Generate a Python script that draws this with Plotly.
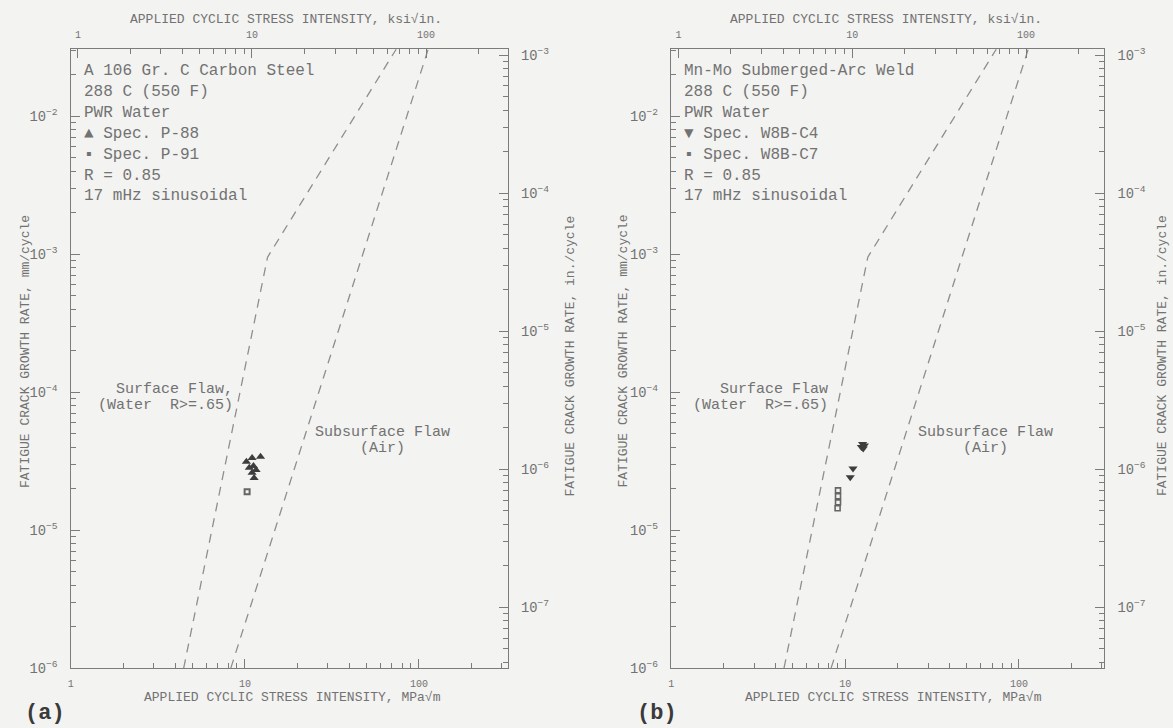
import plotly.graph_objects as go

# ---------------- data ----------------
# ASME reference curves, delta K in MPa*sqrt(m), da/dN in mm/cycle
surface_K = [4.45, 13.5, 74.0]
surface_da = [1.0e-6, 9.5e-4, 3.05e-2]
subsurface_K = [8.3, 113.0]
subsurface_da = [1.0e-6, 3.05e-2]

# panel (a): A 106 Gr. C carbon steel
a_p88_K = [10.2, 11.0, 12.3, 11.2, 11.0, 11.3, 11.6, 10.6]
a_p88_da = [3.13e-5, 3.33e-5, 3.4e-5, 2.92e-5, 2.6e-5, 2.39e-5, 2.73e-5, 2.83e-5]
a_p91_K = [10.3]
a_p91_da = [1.9e-5]

# panel (b): Mn-Mo submerged-arc weld
b_c4_K = [12.4, 12.6, 12.9, 12.7, 11.1, 10.7]
b_c4_da = [4.0e-5, 4.2e-5, 4.1e-5, 3.9e-5, 2.8e-5, 2.42e-5]
b_c7_K = [9.1, 9.1, 9.1, 9.05]
b_c7_da = [1.94e-5, 1.76e-5, 1.59e-5, 1.44e-5]

info_a = ["A 106 Gr. C Carbon Steel", "288 C (550 F)", "PWR Water",
          "\u25b2 Spec. P-88", "\u25aa Spec. P-91", "R = 0.85", "17 mHz sinusoidal"]
info_b = ["Mn-Mo Submerged-Arc Weld", "288 C (550 F)", "PWR Water",
          "\u25bc Spec. W8B-C4", "\u25aa Spec. W8B-C7", "R = 0.85", "17 mHz sinusoidal"]

# minor tick positions (values 2..9 in each decade)
minor_x = [m * 10.0 ** e for e in range(-1, 4) for m in range(2, 10)]
minor_y = [m * 10.0 ** e for e in range(-9, 0) for m in range(2, 10)]

KSI_TO_MPA_LOG = 0.0409   # log10(1.0988)
MM_TO_IN_LOG = 1.44       # right-hand scale offset as drawn

# ---------------- layout helpers ----------------
W, H = 1173, 737          # page is captured slightly taller than the target and fitted to 728
REF_H = 728
def fx(p):
    return p / W
def fy(p):
    return 1 - p / REF_H

GRAY = "#727272"
LINE = "#7c7c7c"
BG = "#f3f3f1"
MONO = "Liberation Mono"

fig = go.Figure()

panels = [
    dict(x0=68, x1=506, xmax=2.51, ids=(1, 2, 5, 6),
         info=info_a, info_x=79, tag="(a)", tag_x=42,
         surf_lbl=("Surface Flaw,", "(Water  R>=.65)"), surf_x=233,
         sub_x=380, top_c=284, bot_c=290, left_t=22, right_t=568),
    dict(x0=670, x1=1104, xmax=2.49, ids=(3, 4, 7, 8),
         info=info_b, info_x=681, tag="(b)", tag_x=656,
         surf_lbl=("Surface Flaw", "(Water  R>=.65)"), surf_x=829,
         sub_x=985, top_c=885, bot_c=893, left_t=622, right_t=1162),
]

ydom = [fy(668), fy(47)]
yrange = [-6, -1.513]

def nm(prefix, i):
    return prefix if i == 1 else prefix + str(i)

def major_axis():
    return dict(type="log", showline=True, linecolor=LINE, linewidth=1.2,
                ticks="inside", ticklen=9, tickcolor=LINE, tickwidth=1.2,
                showgrid=False, zeroline=False, dtick=1,
                tickfont=dict(family=MONO, size=11, color=GRAY))

def minor_axis(vals):
    return dict(type="log", showline=False, ticks="inside", ticklen=5, tickcolor=LINE, tickwidth=1,
                showgrid=False, zeroline=False, tickmode="array", tickvals=vals,
                showticklabels=False)

layout_axes = {}
for p in panels:
    a, t, mb, mt = p["ids"]          # bottom, top, bottom-minor, top-minor (x); same ids for y
    X, XT, XM, XTM = nm("x", a), nm("x", t), nm("x", mb), nm("x", mt)
    Y, YR, YM, YRM = nm("y", a), nm("y", t), nm("y", mb), nm("y", mt)
    dom = [fx(p["x0"]), fx(p["x1"])]
    xr = [0, p["xmax"]]
    xtr = [-KSI_TO_MPA_LOG, p["xmax"] - KSI_TO_MPA_LOG]
    yrr = [yrange[0] - MM_TO_IN_LOG, yrange[1] - MM_TO_IN_LOG]

    ax = major_axis(); ax.update(domain=dom, range=xr, anchor=Y, side="bottom",
                                 exponentformat="none", ticklabelstandoff=6,
                                 tickfont=dict(family=MONO, size=10, color=GRAY))
    layout_axes[nm("xaxis", a)] = ax
    ax = major_axis(); ax.update(overlaying=X, range=xtr, anchor=Y, side="top",
                                 exponentformat="none", ticklabelstandoff=6,
                                 tickfont=dict(family=MONO, size=10, color=GRAY))
    layout_axes[nm("xaxis", t)] = ax
    ax = minor_axis(minor_x); ax.update(overlaying=X, range=xr, anchor=Y, side="bottom")
    layout_axes[nm("xaxis", mb)] = ax
    ax = minor_axis(minor_x); ax.update(overlaying=X, range=xtr, anchor=Y, side="top")
    layout_axes[nm("xaxis", mt)] = ax

    ax = major_axis(); ax.update(domain=ydom, range=yrange, anchor=X, side="left",
                                 exponentformat="power", ticklabelstandoff=10)
    layout_axes[nm("yaxis", a)] = ax
    ax = major_axis(); ax.update(overlaying=Y, range=yrr, anchor=X, side="right",
                                 exponentformat="power", ticklabelstandoff=10)
    layout_axes[nm("yaxis", t)] = ax
    ax = minor_axis(minor_y); ax.update(overlaying=Y, range=yrange, anchor=X, side="left")
    layout_axes[nm("yaxis", mb)] = ax
    ax = minor_axis(minor_y); ax.update(overlaying=Y, range=yrr, anchor=X, side="right")
    layout_axes[nm("yaxis", mt)] = ax

    # placeholder traces so the secondary axes are drawn
    for xx in (XT, XM, XTM):
        fig.add_trace(go.Scatter(x=[None], y=[None], xaxis=xx, yaxis=Y, showlegend=False, hoverinfo="skip"))
    for yy in (YR, YM, YRM):
        fig.add_trace(go.Scatter(x=[None], y=[None], xaxis=X, yaxis=yy, showlegend=False, hoverinfo="skip"))

    # reference curves
    dash = dict(color="#8e8e8e", width=1.3, dash="9px,7px")
    fig.add_trace(go.Scatter(x=surface_K, y=surface_da, mode="lines", line=dash,
                             xaxis=X, yaxis=Y, showlegend=False, name="Surface Flaw"))
    fig.add_trace(go.Scatter(x=subsurface_K, y=subsurface_da, mode="lines", line=dash,
                             xaxis=X, yaxis=Y, showlegend=False, name="Subsurface Flaw"))

# data points
fig.add_trace(go.Scatter(x=a_p88_K, y=a_p88_da, mode="markers", name="Spec. P-88",
                         marker=dict(symbol="triangle-up", size=8, color="#3d3d3d"),
                         xaxis="x", yaxis="y", showlegend=False))
fig.add_trace(go.Scatter(x=a_p91_K, y=a_p91_da, mode="markers", name="Spec. P-91",
                         marker=dict(symbol="square-open", size=5, color="#666666", line=dict(width=2)),
                         xaxis="x", yaxis="y", showlegend=False))
fig.add_trace(go.Scatter(x=b_c4_K, y=b_c4_da, mode="markers", name="Spec. W8B-C4",
                         marker=dict(symbol="triangle-down", size=8, color="#3d3d3d"),
                         xaxis="x3", yaxis="y3", showlegend=False))
fig.add_trace(go.Scatter(x=b_c7_K, y=b_c7_da, mode="markers", name="Spec. W8B-C7",
                         marker=dict(symbol="square-open", size=5, color="#666666", line=dict(width=1.6)),
                         xaxis="x3", yaxis="y3", showlegend=False))

annotations = []
def ann(text, x, y, xanchor="center", yanchor="middle", size=14, color=GRAY, family=MONO, angle=0, align="left"):
    annotations.append(dict(text=text, x=fx(x), y=fy(y), xref="paper", yref="paper",
                            xanchor=xanchor, yanchor=yanchor, showarrow=False, textangle=angle,
                            align=align, font=dict(family=family, size=size, color=color)))

for p in panels:
    # info block
    for k, line in enumerate(p["info"]):
        ann(line, p["info_x"], 69 + k * 21, xanchor="left", size=16)
    # curve labels
    ann(p["surf_lbl"][0], p["surf_x"], 389, xanchor="right", size=15)
    ann(p["surf_lbl"][1], p["surf_x"], 405, xanchor="right", size=15)
    ann("Subsurface Flaw", p["sub_x"], 432, size=15)
    ann("(Air)", p["sub_x"], 448, size=15)
    # axis titles
    ann("APPLIED CYCLIC STRESS INTENSITY, ksi\u221ain.", p["top_c"], 18, size=13)
    ann("APPLIED CYCLIC STRESS INTENSITY, MPa\u221am", p["bot_c"], 697, size=13)
    ann("FATIGUE CRACK GROWTH RATE, mm/cycle", p["left_t"], 350, size=13, angle=-90)
    ann("FATIGUE CRACK GROWTH RATE, in./cycle", p["right_t"], 355, size=13, angle=-90)
    # panel tag
    ann("<b>" + p["tag"] + "</b>", p["tag_x"], 713, size=22, color="#3a3a3a")

fig.update_layout(
    width=W, height=H,
    margin=dict(l=0, r=0, t=0, b=0),
    paper_bgcolor=BG, plot_bgcolor=BG,
    showlegend=False,
    annotations=annotations,
    **layout_axes,
)

fig.write_html("out.html", config={"displayModeBar": False},
               post_script="document.body.style.margin='0px';document.body.style.overflow='hidden';"
                           "document.body.style.background='" + BG + "';"
                           "document.documentElement.style.background='" + BG + "';")
